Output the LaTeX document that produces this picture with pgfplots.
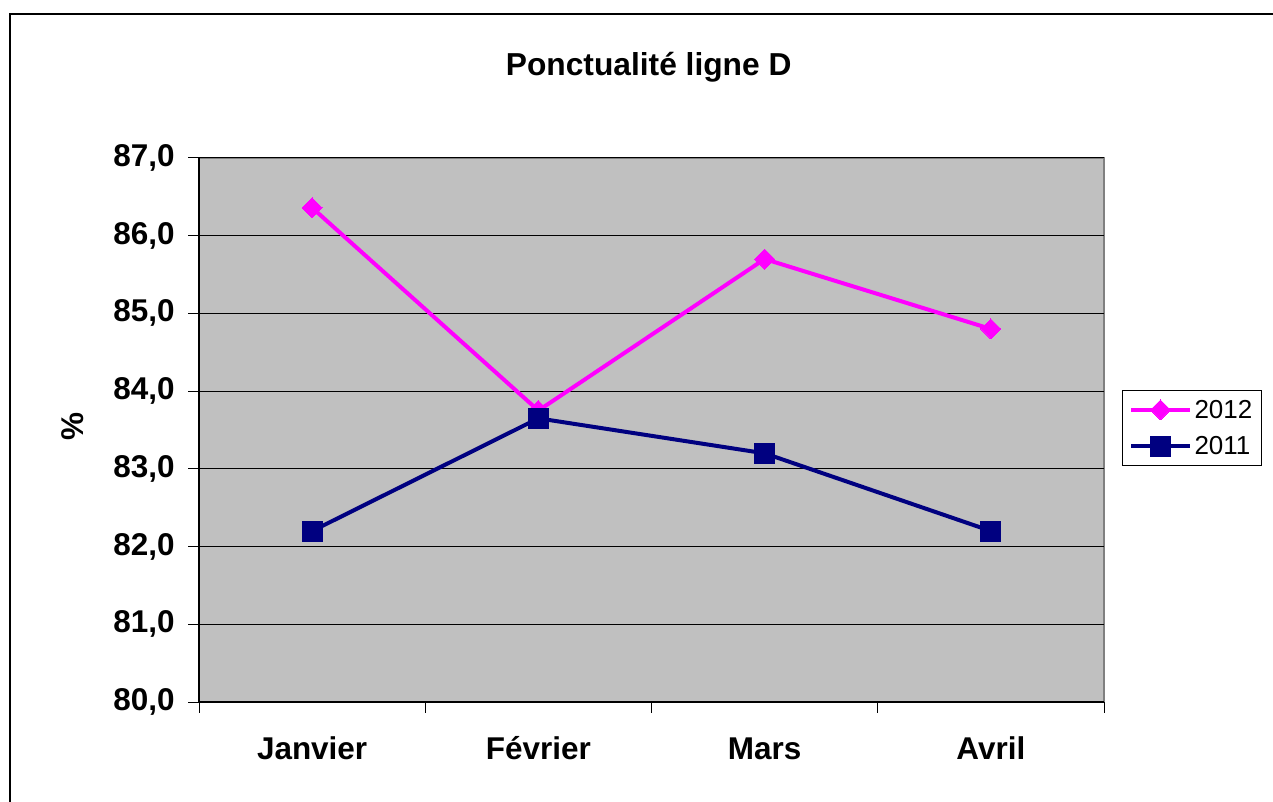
\documentclass[border=0pt]{standalone}
\usepackage{fontspec}
\setmainfont{Liberation Sans}
\usepackage{pgfplots}
\pgfplotsset{compat=1.18}
\definecolor{plotgray}{HTML}{C0C0C0}
\definecolor{mag}{HTML}{FF00FF}
\definecolor{navy}{HTML}{000080}
\newcommand{\legfont}{\fontsize{19.5}{22}\selectfont}
\begin{document}
\begin{tikzpicture}
\useasboundingbox (0,0) rectangle (954.75pt,600.75pt);
\draw[line width=1pt] (7.5pt,-5pt) -- (7.5pt,590.25pt) -- (960pt,590.25pt);
\node[font=\bfseries\fontsize{23.8}{28}\selectfont] at (486.5pt,550pt) {Ponctualité ligne D};
\begin{axis}[
  at={(149.25pt,74.25pt)}, anchor=south west,
  scale only axis, width=678.75pt, height=408pt,
  xmin=0, xmax=4, ymin=80, ymax=87,
  axis x line=bottom, axis y line=left,
  axis line style={-, line width=1pt, black},
  axis background/.style={fill=plotgray, draw=gray, line width=1pt},
  xtick={0,1,2,3,4},
  xticklabels={Janvier,Février,Mars,Avril},
  x tick label as interval,
  ytick={80,81,...,87},
  ymajorgrids, grid style={black, line width=0.75pt},
  tick align=outside, major tick length=8pt,
  tick style={black, line width=0.75pt},
  tick label style={font=\bfseries\fontsize{23.6}{28}\selectfont},
  yticklabel style={inner sep=0pt, xshift=-10pt},
  xticklabel style={inner sep=0pt, anchor=base, yshift=-35pt},
  /pgf/number format/.cd, fixed, fixed zerofill, precision=1, use comma, assume math mode=true,
  /pgfplots/.cd,
  ylabel={\%},
  every axis y label/.style={at={(axis description cs:-0.140,0.506)}, rotate=90, anchor=center, font=\bfseries\fontsize{23.6}{28}\selectfont},
  legend style={at={(axis description cs:1.0199,0.5735)}, anchor=north west, draw=black, line width=0.75pt,
    inner xsep=5pt, inner ysep=5pt, row sep=8pt, cells={anchor=west}},
  legend image code/.code={\draw[#1, mark repeat=2, mark phase=2] plot coordinates {(0pt,0pt)(22pt,0pt)(44pt,0pt)};},
]
\addplot[mag, line width=3pt, mark=diamond*, mark size=7.5pt, mark options={xscale=1.33, solid, fill=mag, draw=mag, line width=0pt}]
  coordinates {(0.5,86.36)(1.5,83.75)(2.5,85.70)(3.5,84.80)};
\addlegendentry{\legfont 2012}
\addplot[navy, line width=3pt, mark=square*, mark size=7.5pt, mark options={solid, fill=navy, draw=navy, line width=0pt}]
  coordinates {(0.5,82.20)(1.5,83.65)(2.5,83.20)(3.5,82.20)};
\addlegendentry{\legfont 2011}
\end{axis}
\end{tikzpicture}
\end{document}
